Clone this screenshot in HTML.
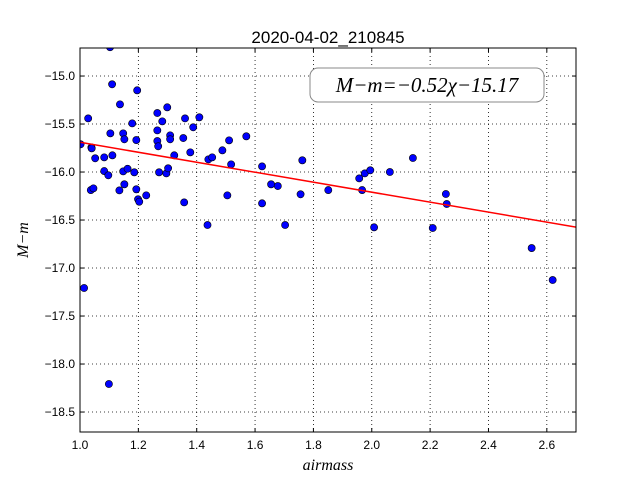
<!DOCTYPE html>
<html><head><meta charset="utf-8"><style>body{margin:0;background:#fff}svg{display:block}</style></head>
<body>
<svg id="chart" width="640" height="480" xmlns="http://www.w3.org/2000/svg" font-family="Liberation Sans, sans-serif">
<rect width="640" height="480" fill="#fff"/>
<g id="grid"></g><g id="pts"></g><g id="axes"></g>
</svg>
<script>
const airmass=[1.002,1.028,1.039,1.040,1.037,1.046,1.052,1.083,1.083,1.097,1.104,1.110,1.111,1.103,1.137,1.135,1.148,1.152,1.148,1.163,1.152,1.179,1.186,1.193,1.196,1.193,1.199,1.203,1.227,1.265,1.265,1.265,1.268,1.271,1.282,1.299,1.296,1.302,1.309,1.309,1.323,1.354,1.360,1.357,1.378,1.388,1.409,1.437,1.440,1.453,1.488,1.505,1.511,1.518,1.570,1.624,1.624,1.655,1.678,1.703,1.756,1.762,1.851,1.957,1.967,1.976,1.995,2.008,2.062,2.141,2.209,2.254,2.257,2.548,2.620,1.014,1.099];
const dmag=[-15.711,-15.441,-15.743,-15.753,-16.188,-16.170,-15.857,-15.847,-15.990,-16.034,-15.597,-15.086,-15.826,-14.70,-15.295,-16.191,-15.597,-15.659,-15.993,-15.966,-16.128,-15.493,-16.003,-15.667,-15.149,-16.180,-16.284,-16.309,-16.243,-15.385,-15.566,-15.677,-15.732,-16.003,-15.472,-15.326,-16.014,-15.961,-15.618,-15.659,-15.826,-15.646,-15.441,-16.316,-15.795,-15.534,-15.430,-16.552,-15.868,-15.847,-15.774,-16.243,-15.670,-15.920,-15.628,-15.941,-16.326,-16.128,-16.146,-16.552,-16.232,-15.878,-16.188,-16.066,-16.188,-16.014,-15.982,-16.576,-16.0,-15.854,-16.583,-16.229,-16.333,-16.792,-17.125,-17.208,-18.208];
const fitSlope=-0.52, fitIntercept=-15.17;
const xTicks=[1.0,1.2,1.4,1.6,1.8,2.0,2.2,2.4,2.6];
const yTicks=[-15.0,-15.5,-16.0,-16.5,-17.0,-17.5,-18.0,-18.5];
const L=80,R=576,T=48,B=432,xmin=1.0,xmax=2.7,ymax=-14.708,ymin=-18.708;
const sx=v=>L+(v-xmin)/(xmax-xmin)*(R-L), sy=v=>T+(ymax-v)/(ymax-ymin)*(B-T);
const NS='http://www.w3.org/2000/svg';
function mk(p,tag,a,txt){const e=document.createElementNS(NS,tag);for(const k in a)e.setAttribute(k,a[k]);if(txt!==undefined)e.textContent=txt;p.appendChild(e);return e;}
const grid=document.getElementById('grid'),pts=document.getElementById('pts'),ax=document.getElementById('axes');
xTicks.forEach(t=>{const x=sx(t);
 const g=mk(grid,'line',{x1:x,x2:x,y1:T,y2:B,stroke:'#000','stroke-dasharray':'1,3','stroke-width':0.8});
 
 mk(ax,'line',{x1:x,x2:x,y1:B,y2:B-4,stroke:'#000'});mk(ax,'line',{x1:x,x2:x,y1:T,y2:T+4,stroke:'#000'});
 const l=mk(ax,'text',{x:x,y:B+17,'text-anchor':'middle','font-size':12},t.toFixed(1));
 });
yTicks.forEach(t=>{const y=sy(t);
 const g=mk(grid,'line',{x1:L,x2:R,y1:y,y2:y,stroke:'#000','stroke-dasharray':'1,3','stroke-width':0.8});
 
 mk(ax,'line',{x1:L,x2:L+4,y1:y,y2:y,stroke:'#000'});mk(ax,'line',{x1:R,x2:R-4,y1:y,y2:y,stroke:'#000'});
 const l=mk(ax,'text',{x:L-5,y:y+4,'text-anchor':'end','font-size':12},'\u2212'+Math.abs(t).toFixed(1));
 });
const cp=mk(pts,'clipPath',{id:'cp'});mk(cp,'rect',{x:L,y:T,width:R-L,height:B-T});
const pg=mk(pts,'g',{'clip-path':'url(#cp)'});
airmass.forEach((a,i)=>{const c=mk(pg,'circle',{cx:sx(a),cy:sy(dmag[i]),r:3.6,fill:'#0000ff',stroke:'#000','stroke-width':0.6});
 });
const fl=mk(pg,'line',{x1:sx(xmin),y1:sy(fitIntercept+fitSlope*xmin),x2:sx(xmax),y2:sy(fitIntercept+fitSlope*xmax),stroke:'#ff0000','stroke-width':1.5});

const fr=mk(ax,'rect',{x:L,y:T,width:R-L,height:B-T,fill:'none',stroke:'#000','stroke-width':1});

const tt=mk(ax,'text',{x:328,y:43,'text-anchor':'middle','font-size':17},'2020-04-02_210845');

const xl=mk(ax,'text',{x:328,y:470,'text-anchor':'middle','font-size':16,'font-style':'italic','font-family':'Liberation Serif, serif'},'airmass');

const yl=mk(ax,'text',{x:0,y:0,transform:'translate(28,240) rotate(-90)','text-anchor':'middle','font-size':16,'font-style':'italic','font-family':'Liberation Serif, serif'},'M\u2212m');

const lb=mk(ax,'rect',{x:310,y:68,width:234,height:34,rx:8,fill:'#fff',stroke:'#888','stroke-width':1});

const lt=mk(ax,'text',{x:427,y:92,'text-anchor':'middle','font-size':21,'font-style':'italic','font-family':'Liberation Serif, serif'},'M\u2212m=\u2212'+Math.abs(fitSlope).toFixed(2)+'\u03c7\u2212'+Math.abs(fitIntercept).toFixed(2));

</script>
</body></html>
